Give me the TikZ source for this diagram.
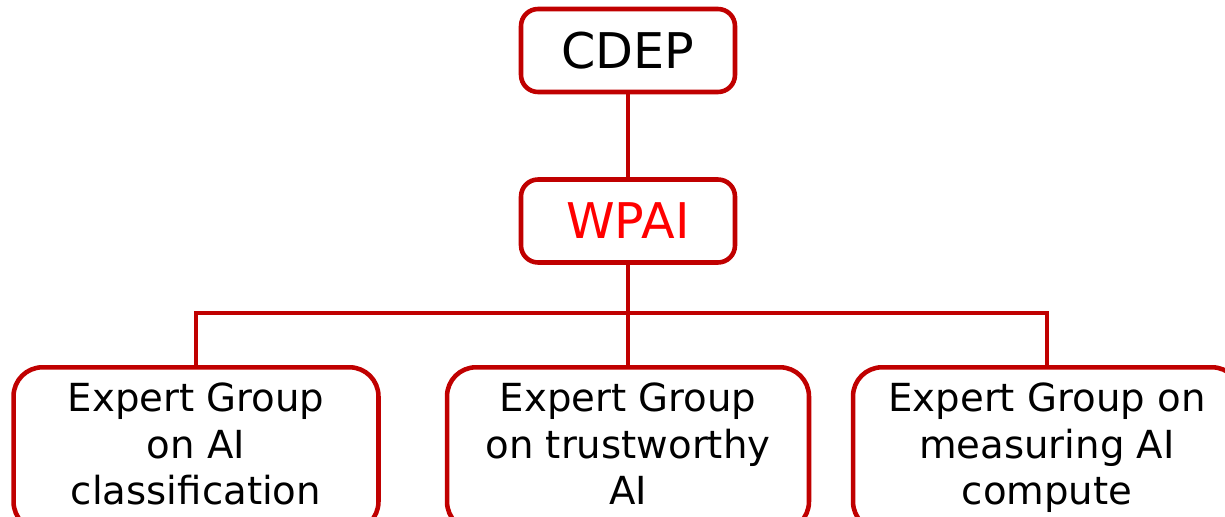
\documentclass[tikz,border=0pt]{standalone}
\usepackage{fontspec}
\setmainfont{DejaVu Sans}
\usepackage{tikz}
\usetikzlibrary{positioning}
\definecolor{boxred}{HTML}{C00000}
\definecolor{wpred}{HTML}{FF0000}
% extra depth so the group boxes run just past the bottom edge
\newcommand{\boxtail}{\rule[-0.2cm]{0pt}{0.2cm}}
\tikzset{
  topbox/.style={draw=boxred, line width=2.6pt, rounded corners=0.34cm,
    minimum width=4.28cm, minimum height=1.66cm, inner sep=0pt,
    font=\fontsize{28}{33}\selectfont},
  groupbox/.style={draw=boxred, line width=2.6pt, rounded corners=0.58cm,
    anchor=north, align=center, inner xsep=0pt, inner ysep=0.32cm,
    font=\fontsize{22}{26.4}\selectfont},
  link/.style={draw=boxred, line width=2.6pt}
}
\begin{document}
\begin{tikzpicture}[x=0.02cm, y=-0.02cm]
\useasboundingbox (0,0) rectangle (1225,517);

% Committee and working party
\node[topbox] (cdep) at (628,50.5) {CDEP};
\node[topbox, text=wpred] (wpai) at (628,221) {WPAI};

% Expert groups (cut off at the bottom of the picture)
\node[groupbox, minimum width=7.3cm]  (egclass) at (196,365)  {Expert Group\\on AI\\classification\boxtail};
\node[groupbox, minimum width=7.24cm] (egtrust) at (628,365)  {Expert Group\\on trustworthy\\AI\boxtail};
\node[groupbox, minimum width=7.76cm] (egcomp)  at (1047,365) {Expert Group on\\measuring AI\\compute\boxtail};

% Connectors
\coordinate (bus) at (628,313);
\draw[link] (cdep) -- (wpai);
\draw[link] (wpai) -- (egtrust);
\draw[link] (egclass.north) |- (bus) -| (egcomp.north);
\end{tikzpicture}
\end{document}
